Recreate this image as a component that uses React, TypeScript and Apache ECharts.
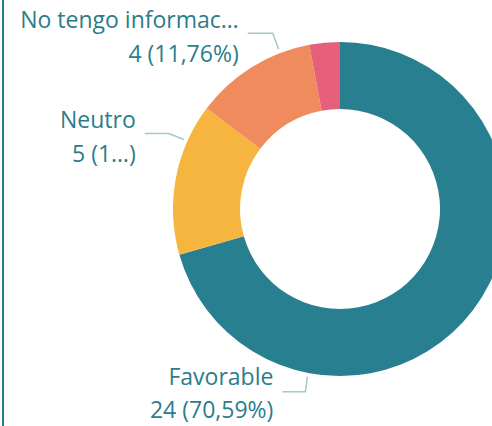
import React, { useEffect, useRef } from "react";
import * as echarts from "echarts";

// ---- data ----
const categories = ["Favorable", "Neutro", "No tengo información", "Desfavorable"];
const values = [24, 5, 4, 1];
// text as displayed (truncated in the reference)
const labelNames = ["Favorable", "Neutro", "No tengo informac…", ""];
const labelValues = ["24 (70,59%)", "5 (1…)", "4 (11,76%)", ""];
const colors = ["#287f8f", "#f5b53f", "#ef8b5c", "#e7607b"];

// ---- layout ----
const CX = 340;
const CY = 209;
const R_OUT = 167;
const R_IN = 100;
const TEXT_COLOR = "#2b7d8b";
const FONT = "'Open Sans', sans-serif";
// anchor angle (deg, clockwise from 12 o'clock), knee offset, horizontal run, line heights
const labelSpots: Record<number, { ang: number; knee: [number, number]; run: number; lh: [number, number]; dy: number }> = {
  0: { ang: 191, knee: [-2, 15], run: 23, lh: [40, 26], dy: -6 },
  1: { ang: 294, knee: [-15, -6], run: 24, lh: [34, 34], dy: 0 },
  2: { ang: 339, knee: [-6, -16], run: 25, lh: [34, 34], dy: 0 },
};

const richFor = (lh: [number, number]) => ({
  a: { fontFamily: FONT, fontSize: 23, color: TEXT_COLOR, lineHeight: lh[0], align: "right" },
  b: { fontFamily: FONT, fontSize: 23, color: TEXT_COLOR, lineHeight: lh[1], align: "right" },
});

export default function App() {
  const ref = useRef<HTMLDivElement>(null);
  useEffect(() => {
    if (!ref.current) return;
    const chart = echarts.init(ref.current, null, { renderer: "svg" });
    chart.setOption({
      animation: false,
      backgroundColor: "#ffffff",
      graphic: [
        {
          type: "rect",
          shape: { x: 2, y: 0, width: 2, height: 426 },
          style: { fill: "#2a7d8c" },
          silent: true,
        },
      ],
      series: [
        {
          type: "pie",
          center: [CX, CY],
          radius: [R_IN, R_OUT],
          startAngle: 90,
          clockwise: true,
          avoidLabelOverlap: false,
          color: colors,
          data: categories.map((c, i) => {
            const s = labelSpots[i];
            return {
              name: c,
              value: values[i],
              label: s ? { show: true, rich: richFor(s.lh) } : { show: false },
              labelLine: { show: !!s },
            };
          }),
          label: {
            show: true,
            position: "outside",
            color: TEXT_COLOR,
            fontFamily: FONT,
            fontSize: 23,
            lineHeight: 34,
            formatter: (p: any) => `{a|${labelNames[p.dataIndex]}}\n{b|${labelValues[p.dataIndex]}}`,
          },
          labelLine: {
            show: true,
            lineStyle: { color: "#a3c8cf", width: 1.5 },
          },
          labelLayout: (params: any) => {
            const s = labelSpots[params.dataIndex];
            if (!s) return {};
            const a = (s.ang * Math.PI) / 180;
            const ax = CX + (R_OUT + 4) * Math.sin(a);
            const ay = CY - (R_OUT + 4) * Math.cos(a);
            const kx = ax + s.knee[0];
            const ky = ay + s.knee[1];
            const ex = kx - s.run;
            return {
              x: ex - 9,
              y: ky + 3 + s.dy,
              align: "right",
              verticalAlign: "middle",
              labelLinePoints: [
                [ax, ay],
                [kx, ky],
                [ex, ky],
              ],
            };
          },
        },
      ],
    });
    return () => chart.dispose();
  }, []);
  return (
    <div style={{ position: "fixed", left: 0, top: 0, width: 492, height: 426, background: "#fff" }}>
      <div ref={ref} style={{ width: 492, height: 426 }} />
    </div>
  );
}
